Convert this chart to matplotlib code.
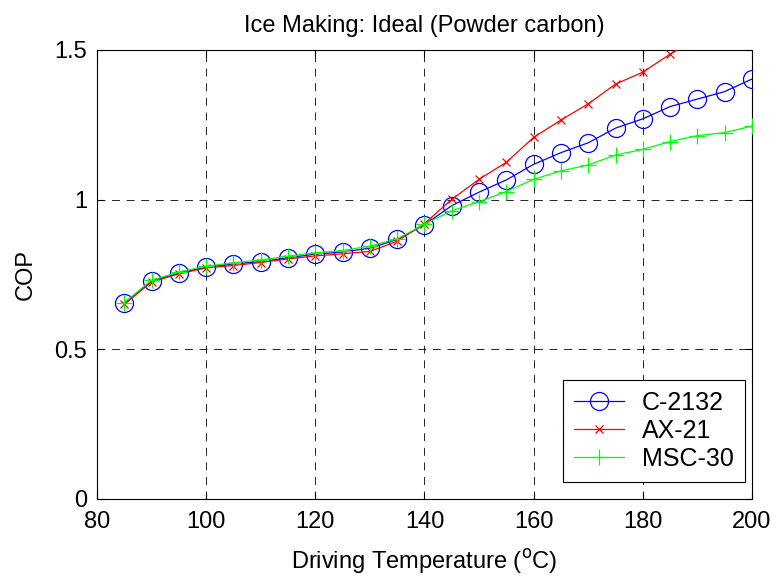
import matplotlib
matplotlib.use("Agg")
import matplotlib.pyplot as plt

plt.rcParams['font.family'] = ['Liberation Sans', 'DejaVu Sans']

temps = [85, 90, 95, 100, 105, 110, 115, 120, 125, 130, 135, 140, 145, 150, 155, 160, 165, 170, 175, 180, 185, 190, 195, 200]
c2132 = [0.654, 0.727, 0.755, 0.774, 0.785, 0.793, 0.806, 0.818, 0.825, 0.838, 0.867, 0.916, 0.980, 1.025, 1.066, 1.118, 1.157, 1.190, 1.239, 1.270, 1.311, 1.336, 1.361, 1.403]
ax21 = [0.650, 0.725, 0.752, 0.772, 0.780, 0.790, 0.802, 0.812, 0.819, 0.827, 0.861, 0.920, 1.001, 1.068, 1.125, 1.208, 1.266, 1.320, 1.386, 1.426, 1.486, 1.54, 1.59, 1.63]
msc30 = [0.656, 0.731, 0.758, 0.778, 0.789, 0.799, 0.811, 0.823, 0.830, 0.845, 0.869, 0.918, 0.963, 0.993, 1.027, 1.068, 1.096, 1.116, 1.149, 1.168, 1.194, 1.214, 1.224, 1.246]

fig = plt.figure(figsize=(7.82, 5.8), dpi=100)
ax = fig.add_axes([0.124, 0.1397, 0.8376, 0.7741])

ax.plot(temps, c2132, color=(0, 0, 1), lw=0.9, marker='o', markersize=13,
        markerfacecolor='none', markeredgecolor=(0, 0, 1), markeredgewidth=0.9, label='C-2132', zorder=3)
ax.plot(temps, ax21, color=(1, 0, 0), lw=0.9, marker='x', markersize=6,
        markeredgewidth=0.9, label='AX-21', zorder=3)
ax.plot(temps, msc30, color=(0, 1, 0), lw=0.9, marker='+', markersize=11,
        markeredgewidth=0.9, label='MSC-30', zorder=3)

ax.set_xlim(80, 200)
ax.set_ylim(0, 1.5)
ax.set_xticks([80, 100, 120, 140, 160, 180, 200])
ax.set_yticks([0, 0.5, 1, 1.5])
ax.set_yticklabels(['0', '0.5', '1', '1.5'])
ax.grid(True, color='black', linestyle=(0, (9.5, 8)), linewidth=0.6)
ax.tick_params(direction='in', top=True, right=True, labelsize=17, length=5)
ax.tick_params(axis='x', pad=9)
ax.tick_params(axis='y', pad=7)
for s in ax.spines.values():
    s.set_linewidth(0.8)

ax.set_title('Ice Making: Ideal (Powder carbon)', fontsize=17, pad=13)
ax.set_xlabel('Driving Temperature ($^{\\mathrm{o}}$C)', fontsize=17, labelpad=10)
ax.set_ylabel('COP', fontsize=17, labelpad=13)

leg = ax.legend(loc='lower right', bbox_to_anchor=(0.9893, 0.0379), borderaxespad=0,
                fontsize=18, fancybox=False, framealpha=1, edgecolor='black',
                borderpad=0.45, handlelength=2.0, handletextpad=0.7, labelspacing=0.15)
leg.get_frame().set_linewidth(0.8)

fig.savefig('out.png', dpi=100)
